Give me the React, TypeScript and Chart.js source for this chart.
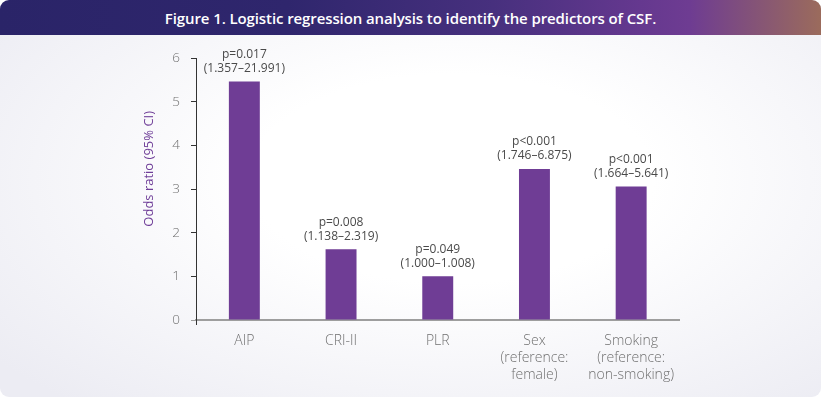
import React, { useEffect, useRef } from 'react';
import { Chart, registerables } from 'chart.js';

Chart.register(...registerables);

const categories: string[][] = [
  ['AIP'],
  ['CRI-II'],
  ['PLR'],
  ['Sex', '(reference:', 'female)'],
  ['Smoking', '(reference:', 'non-smoking)'],
];
const oddsRatios = [5.46, 1.62, 1.0, 3.46, 3.06];
const pValues = ['p=0.017', 'p=0.008', 'p=0.049', 'p<0.001', 'p<0.001'];
const ciLabels = ['(1.357–21.991)', '(1.138–2.319)', '(1.000–1.008)', '(1.746–6.875)', '(1.664–5.641)'];
const yTicks = [0, 1, 2, 3, 4, 5, 6];
const titleText = 'Figure 1. Logistic regression analysis to identify the predictors of CSF.';
const yAxisTitle = 'Odds ratio (95% CI)';

const BAR_COLOR = '#6f3d95';

const barLabelPlugin = {
  id: 'barLabels',
  afterDatasetsDraw(chart: any) {
    const ctx = chart.ctx;
    const meta = chart.getDatasetMeta(0);
    ctx.save();
    ctx.fillStyle = '#4a4a4a';
    ctx.font = '400 12px "Open Sans"';
    ctx.textAlign = 'center';
    ctx.textBaseline = 'middle';
    meta.data.forEach((bar: any, i: number) => {
      ctx.fillText(pValues[i], bar.x, bar.y - 27);
      ctx.fillText(ciLabels[i], bar.x, bar.y - 13);
    });
    ctx.restore();
  },
};

const yTitlePlugin = {
  id: 'yTitle',
  afterDraw(chart: any) {
    const ctx = chart.ctx;
    const area = chart.chartArea;
    ctx.save();
    ctx.translate(area.left - 47, area.top + (area.bottom - area.top) * 0.423);
    ctx.rotate(-Math.PI / 2);
    ctx.fillStyle = '#6f3e98';
    ctx.font = '400 13px "Open Sans"';
    ctx.textAlign = 'center';
    ctx.textBaseline = 'middle';
    ctx.fillText(yAxisTitle, 0, 0);
    ctx.restore();
  },
};

function BarChart() {
  const ref = useRef<HTMLCanvasElement>(null);
  useEffect(() => {
    if (!ref.current) return;
    const chart = new Chart(ref.current, {
      type: 'bar',
      data: {
        labels: categories,
        datasets: [
          {
            data: oddsRatios,
            backgroundColor: BAR_COLOR,
            borderWidth: 0,
            categoryPercentage: 1,
            barPercentage: 0.32,
          },
        ],
      },
      options: {
        animation: false,
        responsive: false,
        maintainAspectRatio: false,
        layout: { padding: { left: 96, right: 141.5, top: 58, bottom: 2 } },
        plugins: { legend: { display: false }, tooltip: { enabled: false } },
        scales: {
          x: {
            afterFit: (s: any) => {
              s.height = 75;
            },
            border: { display: true, color: '#9e9e9e', width: 2 },
            grid: {
              drawOnChartArea: false,
              drawTicks: true,
              tickLength: 5,
              color: (c: any) => (c.index === 0 ? '#333333' : 'rgba(0,0,0,0)'),
            },
            ticks: {
              color: '#707070',
              font: { family: '"Open Sans"', size: 14, weight: '300' as any, lineHeight: 1.2 },
              padding: 8,
              maxRotation: 0,
              autoSkip: false,
            },
          },
          y: {
            min: 0,
            max: 6,
            afterFit: (s: any) => {
              s.width = 100;
            },
            afterBuildTicks: (s: any) => {
              s.ticks = yTicks.map((v) => ({ value: v }));
            },
            border: { display: true, color: '#333333', width: 1 },
            grid: {
              drawOnChartArea: false,
              drawTicks: true,
              tickLength: 5,
              color: (c: any) => (c.index === 0 ? '#9e9e9e' : '#333333'),
            },
            ticks: {
              color: '#707070',
              font: { family: '"Open Sans"', size: 13.5, weight: '300' as any },
              padding: 11,
            },
          },
        },
      },
      plugins: [barLabelPlugin, yTitlePlugin],
    });
    return () => chart.destroy();
  }, []);
  return <canvas ref={ref} width={821} height={397} style={{ position: 'absolute', left: 0, top: 0 }} />;
}

export default function App() {
  return (
    <div
      style={{
        position: 'fixed',
        left: 0,
        top: 0,
        width: 821,
        height: 397,
        borderRadius: 9,
        overflow: 'hidden',
        background: 'radial-gradient(ellipse 70% 75% at 55% 45%, #ffffff 35%, #ececf3 100%)',
        fontFamily: '"Open Sans", sans-serif',
      }}
    >
      <div
        style={{
          position: 'absolute',
          left: 0,
          top: 0,
          width: 821,
          height: 35,
          background:
            'linear-gradient(90deg, #2a2468 0%, #2f266d 35%, #47307e 60%, #65388f 78%, #6e3c92 84%, #9b6b5c 100%)',
          color: '#ffffff',
          display: 'flex',
          alignItems: 'center',
          justifyContent: 'center',
          zIndex: 2,
        }}
      >
        <span
          style={{
            display: 'inline-block',
            fontSize: 15,
            fontWeight: 600,
            whiteSpace: 'nowrap',
            letterSpacing: -0.1,
          }}
        >
          {titleText}
        </span>
      </div>
      <BarChart />
    </div>
  );
}
